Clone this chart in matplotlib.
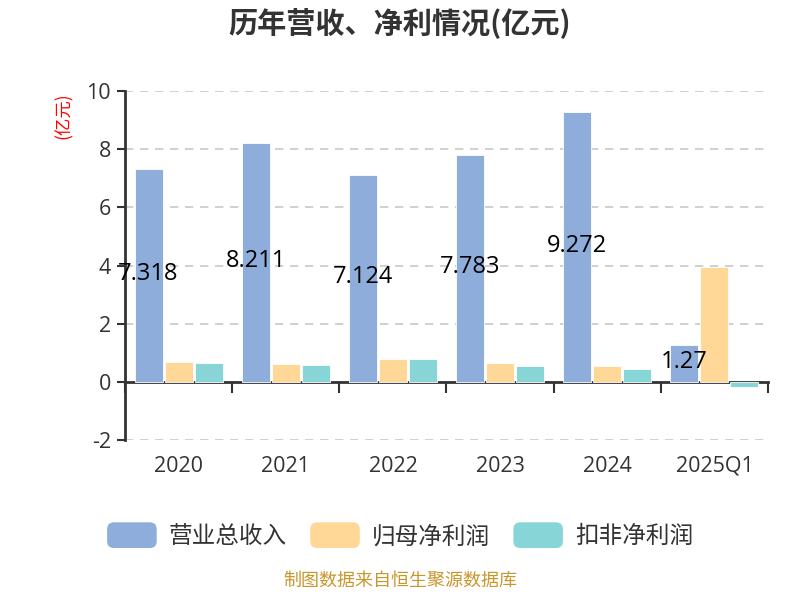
import matplotlib
matplotlib.use('Agg')
import matplotlib.pyplot as plt
import matplotlib.transforms as mtransforms
from matplotlib.patches import Patch, FancyBboxPatch
from matplotlib.legend_handler import HandlerPatch
import numpy as np

plt.rcParams['font.family'] = ['Open Sans', 'Noto Sans CJK SC', 'DejaVu Sans']
plt.rcParams['axes.unicode_minus'] = False

# 数据
years = ['2020', '2021', '2022', '2023', '2024', '2025Q1']
revenue = [7.318, 8.211, 7.124, 7.783, 9.272, 1.27]
net_profit = [0.69, 0.62, 0.80, 0.65, 0.56, 3.96]
deducted_profit = [0.65, 0.58, 0.77, 0.53, 0.45, -0.19]
series_names = ['营业总收入', '归母净利润', '扣非净利润']
colors = ['#8eaddb', '#ffd898', '#88d5d8']

cjk = ['Noto Sans CJK SC', 'DejaVu Sans']


class RoundHandler(HandlerPatch):
    def create_artists(self, legend, orig_handle, xdescent, ydescent,
                       width, height, fontsize, trans):
        p = FancyBboxPatch((-xdescent, -ydescent), width, height,
                           boxstyle='round,pad=0,rounding_size=5',
                           facecolor=orig_handle.get_facecolor(),
                           edgecolor='none', transform=trans)
        return [p]


fig = plt.figure(figsize=(8, 6), dpi=100)
ax = fig.add_axes([0.15625, 0.2667, 0.80375, 0.5816])

x = np.arange(len(years))
width = 0.26
offsets = [-0.28, 0, 0.28]
for vals, off, c in zip([revenue, net_profit, deducted_profit], offsets, colors):
    ax.bar(x + off, vals, width, color=c, edgecolor='white', linewidth=0.6, zorder=3)

# 营收标签放在柱子中间
for xi, v in zip(x, revenue):
    ax.text(xi + offsets[0], v / 2 + 0.05, f'{v:g}', ha='center', va='center',
            fontsize=17, color='black', zorder=5)

ax.set_xlim(-0.5, len(years) - 0.5)
ax.set_ylim(-2, 10)
ax.set_yticks(range(-2, 11, 2))
ax.tick_params(axis='y', direction='out', length=6, width=1.5, color='#333333',
               labelsize=15.5, labelcolor='#333333', pad=4)
ax.yaxis.grid(True, linestyle=(0, (5, 4)), color='#c8c8c8', linewidth=1.2, zorder=0)

ax.set_xticks(np.arange(-0.5, len(years), 1.0))
ax.set_xticklabels([])
ax.tick_params(axis='x', direction='out', length=8, width=1.5, color='#333333')

for s in ['top', 'right']:
    ax.spines[s].set_visible(False)
ax.spines['bottom'].set_position(('data', 0))
ax.spines['bottom'].set_color('#333333')
ax.spines['bottom'].set_linewidth(2)
ax.spines['left'].set_color('#333333')
ax.spines['left'].set_linewidth(2)

trans = mtransforms.blended_transform_factory(ax.transData, ax.transAxes)
for xi, y in zip(x, years):
    ax.text(xi, -0.045, y, transform=trans, ha='center', va='top',
            fontsize=15.5, color='#333333')

fig.text(0.5, 0.962, '历年营收、净利情况(亿元)', ha='center', va='center',
         fontsize=21, fontweight='bold', color='#333333', family=cjk)
fig.text(0.08, 0.808, '(亿元)', rotation=90, ha='center', va='center',
         fontsize=12.5, color='red', family=cjk)

handles = [Patch(facecolor=c, label=n) for c, n in zip(colors, series_names)]
fig.legend(handles=handles, loc='center', bbox_to_anchor=(0.5, 0.108), ncol=3,
           frameon=False, prop={'family': cjk, 'size': 17}, handlelength=2.1,
           handleheight=1.3, handletextpad=0.5, columnspacing=1.0,
           labelcolor='#333333', handler_map={Patch: RoundHandler()})

fig.text(0.5, 0.017, '制图数据来自恒生聚源数据库', ha='center', va='bottom',
         fontsize=13, color='#c9962c', family=cjk)

fig.savefig('out.png', dpi=100)
